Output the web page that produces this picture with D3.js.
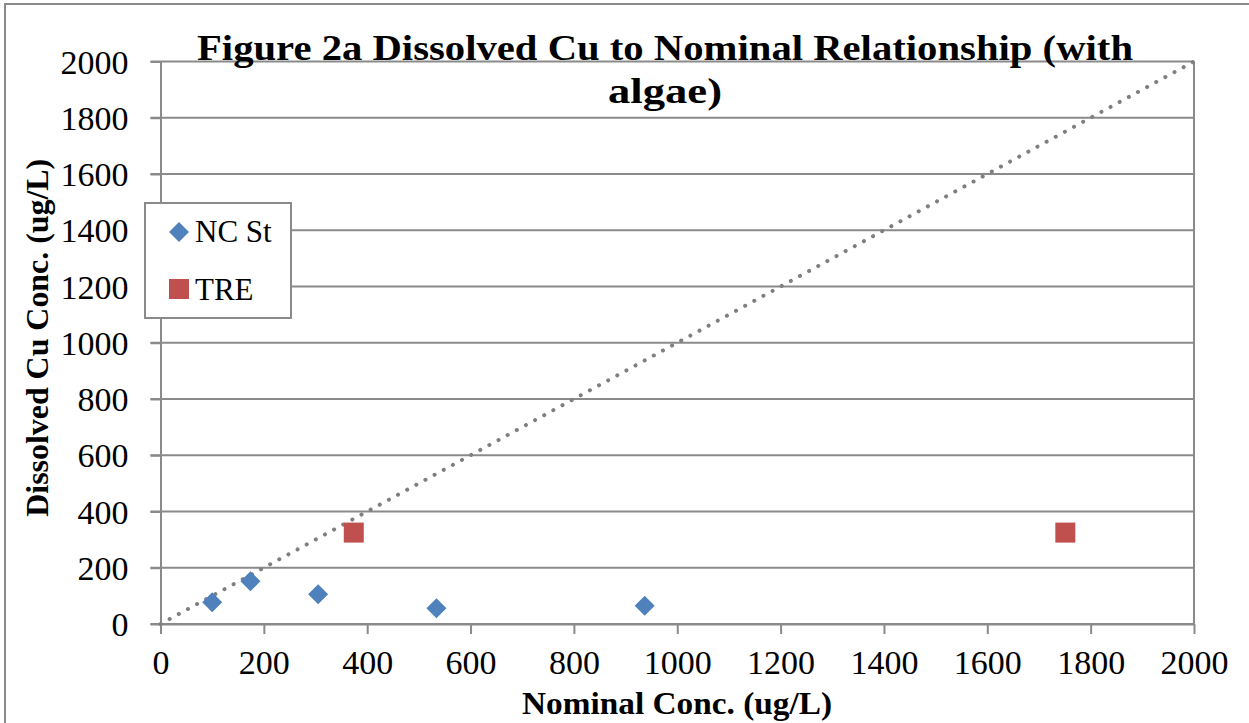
<!DOCTYPE html>
<html>
<head>
<meta charset="utf-8">
<script src="https://cdn.jsdelivr.net/npm/d3@7"></script>
<style>
  body { margin: 0; background: #fff; }
  text { font-family: "Liberation Serif", "DejaVu Serif", serif; }
</style>
</head>
<body>
<div id="chart-area"></div>
<script>
let width = 1249,
    height = 723;

const margin = ({top: 61.5, right: 55, bottom: 99, left: 160.5});

// data
const ncStX = [100, 174, 305, 534, 937];
const ncStY = [77, 152, 106, 56, 65];
const treX = [374, 1751];
const treY = [325, 325];
const xTicks = [0, 200, 400, 600, 800, 1000, 1200, 1400, 1600, 1800, 2000];
const yTicks = [0, 200, 400, 600, 800, 1000, 1200, 1400, 1600, 1800, 2000];
const seriesNames = ["NC St", "TRE"];
const titleLines = ["Figure 2a Dissolved Cu to Nominal Relationship (with", "algae)"];

const blue = "#4f81bd", red = "#c0504d", grid = "#8a8a8a";

const svg = d3.select("#chart-area")
  .append("svg")
  .attr("width", width)
  .attr("height", height);

// outer chart border
svg.append("rect")
  .attr("x", 5).attr("y", 4)
  .attr("width", width + 10).attr("height", height + 10)
  .attr("fill", "white")
  .attr("stroke", grid)
  .attr("stroke-width", 2);

let x = d3.scaleLinear()
  .domain([0, 2000])
  .range([margin.left, width - margin.right]);
let y = d3.scaleLinear()
  .domain([0, 2000])
  .range([height - margin.bottom, margin.top]);

// gridlines
svg.append("g")
  .selectAll("line")
  .data(yTicks)
  .join("line")
  .attr("x1", margin.left - 10)
  .attr("x2", width - margin.right)
  .attr("y1", d => y(d))
  .attr("y2", d => y(d))
  .attr("stroke", grid)
  .attr("stroke-width", 2);

// right border of plot
svg.append("line")
  .attr("x1", x(2000)).attr("x2", x(2000))
  .attr("y1", y(2000)).attr("y2", y(0))
  .attr("stroke", grid).attr("stroke-width", 2);

// x axis
const xAxis = g => g
  .attr("transform", `translate(0,${y(0)})`)
  .call(d3.axisBottom(x).tickValues(xTicks).tickFormat(d3.format("d"))
    .tickSize(10).tickPadding(16).tickSizeOuter(0))
  .call(g => g.select(".domain").attr("stroke", grid).attr("stroke-width", 2))
  .call(g => g.selectAll(".tick line").attr("stroke", grid).attr("stroke-width", 2))
  .call(g => g.selectAll(".tick text")
    .attr("font-family", "Liberation Serif")
    .attr("font-size", 34)
    .attr("fill", "black"));

// y axis
const yAxis = g => g
  .attr("transform", `translate(${x(0)},0)`)
  .call(d3.axisLeft(y).tickValues(yTicks).tickFormat(d3.format("d"))
    .tickSize(10).tickPadding(22).tickSizeOuter(0))
  .call(g => g.select(".domain").attr("stroke", grid).attr("stroke-width", 2))
  .call(g => g.selectAll(".tick line").attr("stroke", grid).attr("stroke-width", 2))
  .call(g => g.selectAll(".tick text")
    .attr("font-family", "Liberation Serif")
    .attr("font-size", 34)
    .attr("dy", "0.34em")
    .attr("fill", "black"));

svg.append("g").call(xAxis);
svg.append("g").call(yAxis);

// 1:1 dotted line
svg.append("line")
  .attr("x1", x(0)).attr("y1", y(0))
  .attr("x2", x(2000)).attr("y2", y(2000))
  .attr("stroke", "#7f7f7f")
  .attr("stroke-width", 4)
  .attr("stroke-linecap", "round")
  .attr("stroke-dasharray", "0.1,10.3");

// series
const diamond = s => `M0,${-s}L${s},0L0,${s}L${-s},0Z`;

svg.append("g")
  .selectAll("path")
  .data(ncStX.map((v, i) => [v, ncStY[i]]))
  .join("path")
  .attr("transform", d => `translate(${x(d[0])},${y(d[1])})`)
  .attr("d", diamond(10))
  .attr("fill", blue);

svg.append("g")
  .selectAll("rect")
  .data(treX.map((v, i) => [v, treY[i]]))
  .join("rect")
  .attr("x", d => x(d[0]) - 10)
  .attr("y", d => y(d[1]) - 10)
  .attr("width", 20)
  .attr("height", 20)
  .attr("fill", red);

// title
svg.append("g")
  .selectAll("text")
  .data(titleLines)
  .join("text")
  .attr("x", 665)
  .attr("y", (d, i) => 60 + i * 43)
  .attr("text-anchor", "middle")
  .attr("font-weight", "bold")
  .attr("font-size", 36)
  .attr("textLength", (d, i) => i === 0 ? 936 : 114)
  .attr("lengthAdjust", "spacingAndGlyphs")
  .text(d => d);

// axis titles
svg.append("text")
  .attr("x", 677)
  .attr("y", 714)
  .attr("text-anchor", "middle")
  .attr("font-weight", "bold")
  .attr("font-size", 31)
  .attr("textLength", 310)
  .attr("lengthAdjust", "spacingAndGlyphs")
  .text("Nominal Conc. (ug/L)");

svg.append("text")
  .attr("transform", `translate(48,${(y(0) + y(2000)) / 2 - 5}) rotate(-90)`)
  .attr("text-anchor", "middle")
  .attr("font-weight", "bold")
  .attr("font-size", 31)
  .attr("textLength", 358)
  .attr("lengthAdjust", "spacingAndGlyphs")
  .text("Dissolved Cu Conc. (ug/L)");

// legend
const legend = svg.append("g").attr("transform", "translate(145,203)");
legend.append("rect")
  .attr("width", 146).attr("height", 115)
  .attr("fill", "white")
  .attr("stroke", grid).attr("stroke-width", 2);

legend.append("path")
  .attr("transform", "translate(34,29)")
  .attr("d", diamond(10))
  .attr("fill", blue);
legend.append("rect")
  .attr("x", 24).attr("y", 76)
  .attr("width", 20).attr("height", 20)
  .attr("fill", red);

legend.selectAll("text.lab")
  .data(seriesNames)
  .join("text")
  .attr("class", "lab")
  .attr("x", 50)
  .attr("y", (d, i) => 39 + i * 58)
  .attr("font-size", 31)
  .text(d => d);
</script>
</body>
</html>
